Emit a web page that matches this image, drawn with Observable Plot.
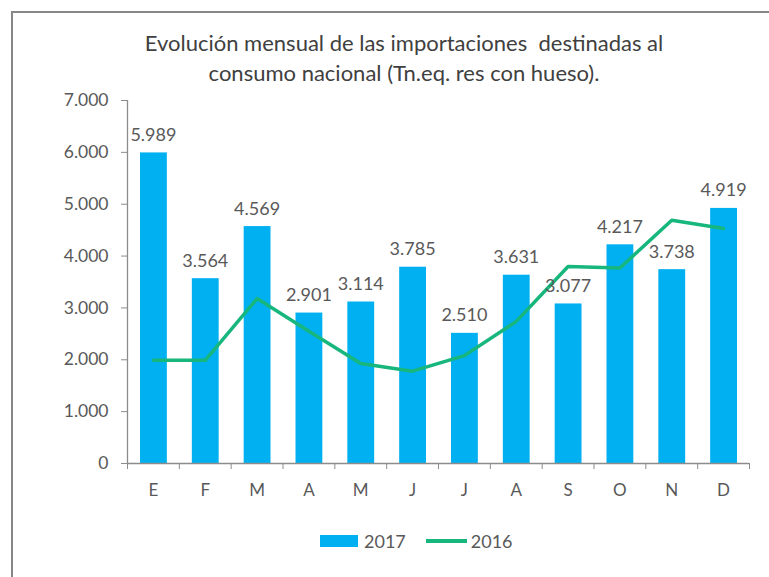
<!DOCTYPE html>
<html>
<head>
<meta charset="utf-8">
<script src="https://cdn.jsdelivr.net/npm/d3@7"></script>
<script src="https://cdn.jsdelivr.net/npm/@observablehq/plot@0.6"></script>
<style>
  html, body { margin: 0; padding: 0; background: #fff; overflow: hidden; }
  #wrap { position: relative; width: 769px; height: 577px; overflow: hidden; font-family: Lato, "Open Sans", sans-serif; }
  #frame { position: absolute; left: 11px; top: 11px; width: 820px; height: 640px; border: 2px solid #878787; box-sizing: border-box; }
  #title { position: absolute; left: 104px; width: 600px; top: 28px; text-align: center; font-size: 22px; line-height: 30px; color: #404040; }
  #chart { position: absolute; left: 0; top: 0; }
  #legend { position: absolute; top: 530px; left: 320px; font-size: 18px; color: #595959; display: flex; align-items: center; }
  .sw { display: inline-block; }
</style>
</head>
<body>
<div id="wrap">
  <div id="frame"></div>
  <div id="chart"></div>
  <div id="title">Evolución mensual de las importaciones&nbsp; destinadas al<br>consumo nacional (Tn.eq. res con hueso).</div>
  <div id="legend">
    <span class="sw" style="width:38px;height:12px;background:#00B0F0;"></span>
    <span style="margin-left:6px;">2017</span>
    <span class="sw" style="width:41px;height:4px;background:#17B67C;margin-left:20px;"></span>
    <span style="margin-left:4px;">2016</span>
  </div>
</div>
<script>
const months = ["E","F","M","A","M","J","J","A","S","O","N","D"];
const v2017 = [5989, 3564, 4569, 2901, 3114, 3785, 2510, 3631, 3077, 4217, 3738, 4919];
const v2016 = [1990, 1990, 3180, 2550, 1930, 1780, 2080, 2740, 3800, 3770, 4690, 4530];
const yTicks = [0, 1000, 2000, 3000, 4000, 5000, 6000, 7000];

const rows = months.map((m, i) => ({i, m, v2017: v2017[i], v2016: v2016[i]}));
const fmt = v => d3.format(",")(v).replace(/,/g, ".");
const textColor = "#595959";

const chart = Plot.plot({
  width: 769,
  height: 577,
  marginLeft: 127,
  marginRight: 20,
  marginTop: 100,
  marginBottom: 114,
  style: {fontFamily: "Lato, 'Open Sans', sans-serif", fontSize: "17px", color: textColor, background: "transparent"},
  x: {domain: [0, 12]},
  y: {domain: [0, 7000]},
  marks: [
    Plot.rectY(rows, {x1: "i", x2: d => d.i + 1, y: "v2017", fill: "#00B0F0", insetLeft: 13, insetRight: 12}),
    Plot.ruleY([0], {stroke: "#8c8c8c", strokeWidth: 1.3}),
    Plot.ruleX([0], {stroke: "#8c8c8c", strokeWidth: 1.3}),
    Plot.axisY({ticks: yTicks, tickFormat: fmt, tickSize: 6, tickPadding: 13, stroke: "#8c8c8c", fill: textColor, fontSize: 17.5, label: null}),
    Plot.axisX({ticks: d3.range(13), tickFormat: () => "", tickSize: 6, stroke: "#8c8c8c", label: null}),
    Plot.axisX({ticks: d3.range(12).map(i => i + 0.5), tickFormat: t => months[Math.floor(t)], tickSize: 0, tickPadding: 20, fill: textColor, label: null}),
    Plot.lineY(rows, {x: d => d.i + 0.5, y: "v2016", stroke: "#17B67C", strokeWidth: 3.5}),
    Plot.text(rows, {x: d => d.i + 0.5, y: "v2017", text: d => fmt(d.v2017), lineAnchor: "bottom", dy: -12, fill: textColor, fontSize: 18})
  ]
});
document.getElementById("chart").appendChild(chart);
</script>
</body>
</html>
